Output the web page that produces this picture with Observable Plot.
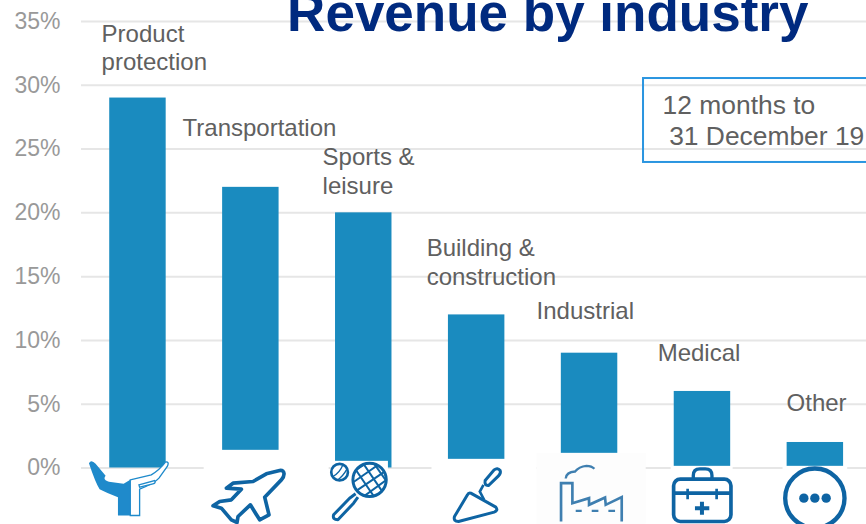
<!DOCTYPE html>
<html>
<head>
<meta charset="utf-8">
<script src="https://cdn.jsdelivr.net/npm/d3@7"></script>
<script src="https://cdn.jsdelivr.net/npm/@observablehq/plot@0.6"></script>
<style>html,body{margin:0;padding:0;background:#fff;overflow:hidden}svg{display:block}</style>
</head>
<body>
<div id="chart"></div>
<script>
const categories = ["Product protection","Transportation","Sports & leisure","Building & construction","Industrial","Medical","Other"];
const shares = [29,22,20,12,9,6,2];
const labels = ["Product\nprotection","Transportation","Sports &\nleisure","Building &\nconstruction","Industrial","Medical","Other"];
const labelXs = [0.178,0.895,2.135,3.057,4.031,5.103,6.245];
const labelYs = [33.01,26.76,23.36,16.23,12.43,9.13,5.21];
const tickValues = [0,5,10,15,20,25,30,35];
const title = "Revenue by industry";
const periodLines = ["12 months to","31 December 19"];

const bars = categories.map((c,i)=>({c,i,v:shares[i]}));
const texts = labels.map((t,i)=>({t,x:labelXs[i],y:labelYs[i]}));

const D="#0e64a3", F="#3f7fb0", H="#1f8acb";
// Icon artwork, drawn at 3x relative to an origin; each sits under a bar through the scales.
const icons = [
 {ox:413.5,oy:143,art:`
  <path d="M268,130 Q275,118 288,132 L318,168 Q308,180 328,186 L372,192 L392,180 L392,287 L355,287 L355,232 Q320,218 300,208 Q288,190 268,130Z" fill="${H}"/>
  <path d="M392,180 L455,165 Q480,150 498,126 Q510,125 503,140 L478,175 Q465,190 420,208 L420,287 L392,287Z" fill="#fff" stroke="${H}" stroke-width="4"/>
  <path d="M418,195 L465,182 Q470,190 460,192 L420,202Z" fill="#fff" stroke="${H}" stroke-width="4"/>`},
 {ox:752,oy:143,art:`
  <rect x="612" y="90" width="375" height="222" fill="#fff"/>
  <path d="M840,152 C858,150 855,170 845,180 L795,232 L808,285 L780,300 L752,255 L715,290 L712,308 L695,300 L665,265 L640,258 L660,245 L695,240 L725,208 L680,205 L700,190 L760,185 L800,162Z" fill="#fff" stroke="${D}" stroke-width="11" stroke-linejoin="round"/>`},
 {ox:1091,oy:143,art:`
  <rect x="993" y="123" width="172" height="189" fill="#fff"/>
  <clipPath id="head"><circle cx="1110" cy="180" r="50"/></clipPath>
  <g clip-path="url(#head)" stroke="${D}" stroke-width="6">
   <path d="M1040,170L1130,110M1050,195L1150,125M1060,220L1170,145M1085,235L1175,170M1055,130L1130,240M1080,115L1155,225M1105,105L1175,205"/>
  </g>
  <circle cx="1110" cy="180" r="50" fill="none" stroke="${D}" stroke-width="9"/>
  <circle cx="1020" cy="157" r="25" fill="none" stroke="${D}" stroke-width="8"/>
  <path d="M1000,170Q1020,160 1030,135M1012,182Q1030,170 1042,148" fill="none" stroke="${D}" stroke-width="4"/>
  <path d="M1068,222L1050,235L1002,285Q998,300 1015,300L1062,250L1075,232" fill="#fff" stroke="${D}" stroke-width="9" stroke-linejoin="round"/>`},
 {ox:131,oy:143,art:`
  <rect x="-3" y="117" width="315" height="195" fill="#fff"/>
  <path d="M158,182 L185,150 Q195,142 203,152 Q206,160 198,168 L168,197 Q155,198 158,182Z" fill="none" stroke="${D}" stroke-width="9"/>
  <path d="M153,195 L142,215 L155,240" fill="none" stroke="${D}" stroke-width="8"/>
  <path d="M115,220 L190,262 Q198,272 185,277 L78,305 Q62,305 66,290 L105,225 Q108,218 115,220Z" fill="#fff" stroke="${D}" stroke-width="9" stroke-linejoin="round"/>`},
 {ox:470,oy:143,art:`
  <rect x="312" y="99" width="328" height="213" fill="#fdfdfd"/>
  <path d="M400,176 Q402,156 428,155 Q440,140 462,138 Q478,138 486,147" fill="none" stroke="${F}" stroke-width="7"/>
  <path d="M386,305 L386,190 L420,190 L420,250 L470,235 L470,255 L518,233 L520,255 L568,232 L568,305" fill="none" stroke="${F}" stroke-width="8"/>
  <path d="M430,273H448M478,273H498M528,273H548" stroke="${F}" stroke-width="7"/>`},
 {ox:808,oy:143,art:`
  <rect x="714" y="138" width="186" height="174" fill="#fff"/>
  <rect x="723" y="178" width="172" height="127" rx="20" fill="none" stroke="${D}" stroke-width="11"/>
  <path d="M782,178V167Q782,147 802,147H818Q838,147 838,167V178" fill="none" stroke="${D}" stroke-width="10"/>
  <path d="M720,220H897" stroke="${D}" stroke-width="11"/>
  <path d="M765,207V238M852,207V238" stroke="${D}" stroke-width="8"/>
  <path d="M787,265H830M808,246V285" stroke="${D}" stroke-width="12"/>`},
 {ox:1153,oy:143,art:`
  <rect x="1056" y="138" width="194" height="174" fill="#fff"/>
  <circle cx="1153" cy="235" r="89" fill="none" stroke="${D}" stroke-width="13"/>
  <circle cx="1120" cy="235" r="14" fill="${D}"/>
  <circle cx="1153" cy="235" r="14" fill="${D}"/>
  <circle cx="1187" cy="235" r="14" fill="${D}"/>`}
];

const iconMark = (index,{x,y}) => {
  const g = d3.create("svg:g");
  icons.forEach((ic,i)=>{
    g.append("g")
     .attr("transform",`translate(${x(i+0.5)},${y(0)}) scale(${1/3}) translate(${-ic.ox},${-ic.oy})`)
     .html(ic.art);
  });
  return g.node();
};

const font = "'Liberation Sans', Arial, sans-serif";
const chart = Plot.plot({
  width:866, height:524,
  marginLeft:81, marginRight:0, marginTop:21, marginBottom:56.5,
  style:{fontFamily:font, background:"#fff", overflow:"hidden"},
  x:{domain:[0,6.953], axis:null},
  y:{domain:[0,35], axis:null},
  marks:[
    Plot.ruleY(tickValues,{stroke:"#e6e6e6",strokeWidth:2,strokeOpacity:1}),
    Plot.axisY(tickValues,{tickSize:0,tickPadding:21,tickFormat:d=>d+"%",fontSize:23,fill:"#999",label:null,marginLeft:81}),
    Plot.rectY(bars,{x1:d=>d.i+0.25,x2:d=>d.i+0.75,y1:0,y2:"v",fill:"#1a8bbf"}),
    iconMark,
    Plot.text(texts,{x:"x",y:"y",text:"t",textAnchor:"start",lineAnchor:"middle",lineHeight:1.2,fontSize:24,fill:"#606060"}),
    Plot.rect([{a:4.978,b:7.2,c:30.53,d:23.95}],{x1:"a",x2:"b",y1:"c",y2:"d",fill:"none",stroke:"#2a95e0",strokeWidth:2}),
    Plot.text([periodLines[0]],{x:5.147,y:28.4,text:d=>d,textAnchor:"start",fontSize:26.4,fill:"#606060"}),
    Plot.text([periodLines[1]],{x:5.205,y:25.98,text:d=>d,textAnchor:"start",fontSize:26.4,fill:"#606060"}),
    Plot.text([title],{x:4.13,y:35,text:d=>d,textAnchor:"middle",lineAnchor:"bottom",dy:9,fontSize:53,fontWeight:"bold",fill:"#002a7f"})
  ]
});
document.getElementById("chart").append(chart);
</script>
</body>
</html>
